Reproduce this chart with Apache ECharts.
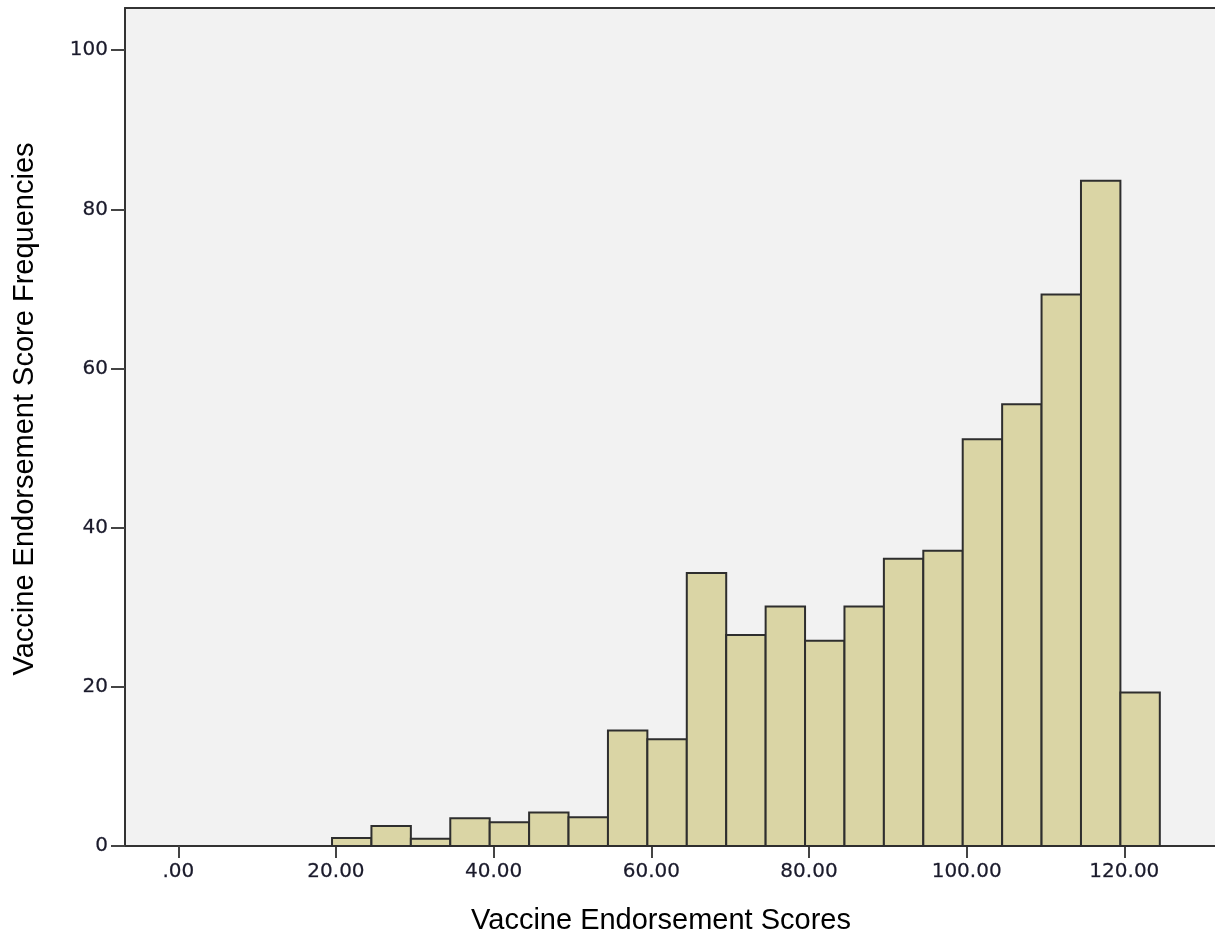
<!DOCTYPE html>
<html>
<head>
<meta charset="utf-8">
<script src="https://cdn.jsdelivr.net/npm/echarts@6/dist/echarts.min.js"></script>
<style>
html,body{margin:0;padding:0;background:#fff;}
#chart{width:1215px;height:943px;}
</style>
</head>
<body>
<div id="chart"></div>
<script>
// Histogram bins (lower edge of each 5-point bin) and frequencies
var binStarts = [19.5, 24.5, 29.5, 34.5, 39.5, 44.5, 49.5, 54.5, 59.5, 64.5, 69.5,
                 74.5, 79.5, 84.5, 89.5, 94.5, 99.5, 104.5, 109.5, 114.5, 119.5];
var binWidth = 5;
var frequencies = [1.0, 2.5, 0.9, 3.5, 3.0, 4.2, 3.6, 14.5, 13.4, 34.3, 26.5,
                   30.1, 25.8, 30.1, 36.1, 37.1, 51.1, 55.5, 69.3, 83.6, 19.3];
var xTickValues = [0, 20, 40, 60, 80, 100, 120];
var xTickLabels = ['.00', '20.00', '40.00', '60.00', '80.00', '100.00', '120.00'];
var yTickValues = [0, 20, 40, 60, 80, 100];
var yTickLabels = ['0', '20', '40', '60', '80', '100'];

var data = binStarts.map(function (s, i) { return [s, s + binWidth, frequencies[i]]; });

var chart = echarts.init(document.getElementById('chart'), null, {renderer: 'canvas'});
chart.setOption({
  animation: false,
  backgroundColor: '#ffffff',
  grid: {
    left: 125, top: 8, right: 0, bottom: 97,
    show: true, backgroundColor: '#f2f2f2', borderWidth: 0
  },
  xAxis: [{
    type: 'value', min: -6.76, max: 131.5,
    name: 'Vaccine Endorsement Scores', nameLocation: 'middle', nameGap: 60,
    nameTextStyle: {fontFamily: 'Liberation Sans', fontSize: 29, color: '#000', padding: [0, 18, 0, 0]},
    splitLine: {show: false},
    axisLine: {show: true, onZero: false, lineStyle: {color: '#333333', width: 2}},
    axisTick: {show: true, length: 12, customValues: xTickValues, lineStyle: {color: '#444', width: 2}},
    axisLabel: {
      customValues: xTickValues, margin: 16,
      fontFamily: 'DejaVu Sans', fontSize: 20, color: '#1a1a2a',
      textBorderColor: '#55556a', textBorderWidth: 0.3,
      formatter: function (v) { var i = xTickValues.indexOf(v); return i >= 0 ? xTickLabels[i] : ''; }
    }
  }, {
    type: 'value', position: 'top', min: -6.76, max: 131.5,
    splitLine: {show: false},
    axisLine: {show: true, onZero: false, lineStyle: {color: '#333333', width: 2}},
    axisTick: {show: false},
    axisLabel: {show: false}
  }],
  yAxis: {
    type: 'value', min: 0, max: 105.3,
    name: 'Vaccine Endorsement Score Frequencies', nameLocation: 'middle', nameGap: 86, nameRotate: 90,
    nameTextStyle: {fontFamily: 'Liberation Sans', fontSize: 29, color: '#000', padding: [0, 0, 0, 36]},
    splitLine: {show: false},
    axisLine: {show: true, onZero: false, lineStyle: {color: '#333333', width: 2}},
    axisTick: {show: true, length: 14, customValues: yTickValues, lineStyle: {color: '#444', width: 2}},
    axisLabel: {
      customValues: yTickValues, margin: 17,
      fontFamily: 'DejaVu Sans', fontSize: 20, color: '#1a1a2a',
      textBorderColor: '#55556a', textBorderWidth: 0.3,
      formatter: function (v) { var i = yTickValues.indexOf(v); return i >= 0 ? yTickLabels[i] : ''; }
    }
  },
  series: [{
    type: 'custom',
    xAxisIndex: 0,
    data: data,
    encode: {x: [0, 1], y: 2},
    renderItem: function (params, api) {
      var p0 = api.coord([api.value(0), 0]);
      var p1 = api.coord([api.value(1), api.value(2)]);
      return {
        type: 'rect',
        shape: {x: p0[0], y: p1[1], width: p1[0] - p0[0], height: p0[1] - p1[1]},
        style: {fill: '#dad5a5', stroke: '#2e2e2e', lineWidth: 2}
      };
    }
  }]
});
</script>
</body>
</html>
